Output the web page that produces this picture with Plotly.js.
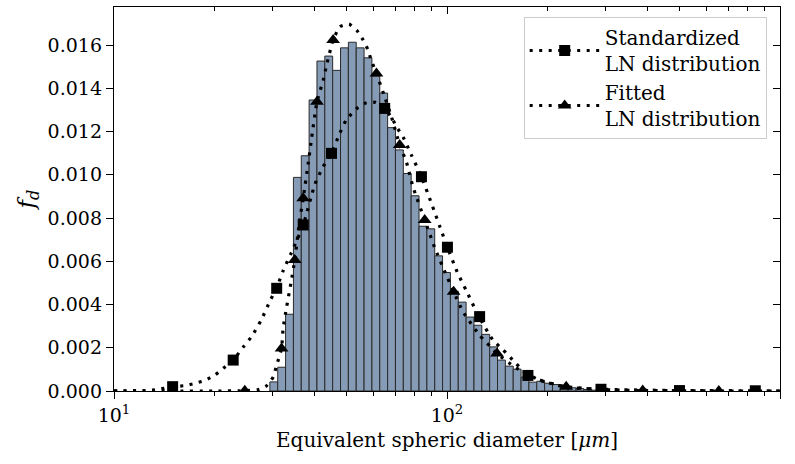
<!DOCTYPE html>
<html><head><meta charset="utf-8">
<script src="https://cdn.plot.ly/plotly-3.0.1.min.js"></script>
<style>html,body{margin:0;padding:0;background:#fff;} #chart{width:795px;height:464px;}</style>
</head><body><div id="chart"></div>
<script>
// Histogram (log-spaced bins): bin edges [µm] and density f_d per bin
const binEdges = [29.38, 31.02, 32.75, 34.58, 36.51, 38.54, 40.69, 42.96, 45.36, 47.89,
  50.56, 53.38, 56.36, 59.50, 62.82, 66.32, 70.02, 73.93, 78.05, 82.41,
  87.01, 91.86, 96.98, 102.39, 108.10, 114.13, 120.50, 127.22, 134.32, 141.81,
  149.72, 158.07, 166.89, 176.20, 186.03, 196.41, 207.36, 218.93, 231.14, 244.03,
  257.65, 272.02, 287.19];
const binDensity = [0.00042, 0.00110, 0.00355, 0.00988, 0.01088, 0.01346, 0.01526, 0.01549, 0.01483, 0.01587,
  0.01613, 0.01587, 0.01541, 0.01457, 0.01378, 0.01218, 0.01115, 0.01006, 0.00903, 0.00762,
  0.00750, 0.00625, 0.00548, 0.00461, 0.00411, 0.00342, 0.00304, 0.00262, 0.00204, 0.00143,
  0.00115, 0.00101, 0.00064, 0.00041, 0.00045, 0.00036, 0.00030, 0.00020, 0.00015, 0.00011,
  0.00007, 0.00004];

// Standardized LN distribution: curve and marker points
const stdCurveX = [10, 10.66, 12.24, 13.27, 15.0, 16.33, 17.59, 18.84, 20.1, 21.28, 22.8, 24.43, 25.88,
  27.73, 29.51, 30.77, 32.2, 34.1, 37.0, 40.1, 42.46, 45.0, 47.64, 49.9, 53.46, 57.3, 61.0, 65.0,
  68.4, 70.5, 73.8, 78.2, 83.8, 89.8, 96.8, 100.5, 107.2, 114.3, 124.7, 137.4, 147.4, 161, 175,
  196.4, 228, 290, 400, 500, 843, 1000];
const stdCurveY = [0.00001, 0.00001, 0.00002, 0.00005, 0.00020, 0.00025, 0.00036, 0.00051, 0.00074, 0.00105, 0.00143, 0.00203, 0.00251,
  0.00331, 0.00421, 0.00475, 0.00556, 0.00640, 0.00768, 0.00955, 0.01037, 0.01099, 0.01192, 0.01255, 0.01305, 0.01333, 0.01335, 0.01307,
  0.01261, 0.01222, 0.01175, 0.01091, 0.00991, 0.00868, 0.00729, 0.00661, 0.00552, 0.00464, 0.00344, 0.00236, 0.00190, 0.00128, 0.00074,
  0.00043, 0.00017, 0.00008, 0.00004, 0.00002, 0.00001, 0];
const stdMarkX = [15.0, 22.8, 30.8, 37.0, 45.0, 65.0, 83.8, 100.3, 125.3, 175, 290, 499, 843];
const stdMarkY = [0.00020, 0.00143, 0.00475, 0.00768, 0.01099, 0.01307, 0.00991, 0.00665, 0.00344, 0.00072, 0.00008, 0.00002, 0.00001];

// Fitted LN distribution: curve and marker points
const fitCurveX = [10, 15, 20, 24.7, 27, 28.5, 29.4, 30.1, 30.8, 31.85, 32.2, 33.0, 34.0, 34.9, 36.1, 37.0, 38.3,
  39.2, 40.7, 42.5, 43.5, 45.5, 47.7, 50.8, 53.7, 56.0, 57.9, 59.2, 61.4, 65, 68.1, 72.1, 75.5, 79.0, 85.7,
  92, 98.5, 104.7, 111.7, 125, 141.3, 160, 190, 228, 300, 387, 500, 655, 1000];
const fitCurveY = [0, 0, 0, 0.00001, 0.00006, 0.00020, 0.00043, 0.00066, 0.00120, 0.00197, 0.00290, 0.00390, 0.00500, 0.00606, 0.00790, 0.00891, 0.01053,
  0.01169, 0.01338, 0.01438, 0.01508, 0.01623, 0.01685, 0.01697, 0.01666, 0.01623, 0.01577, 0.01531, 0.01469, 0.01360, 0.01268, 0.01138, 0.01060, 0.00945, 0.00791,
  0.00660, 0.00552, 0.00459, 0.00367, 0.00260, 0.00174, 0.00110, 0.00050, 0.00020, 0.00006, 0.00002, 0.00001, 0, 0];
const fitMarkX = [24.7, 31.85, 34.9, 37.0, 40.7, 45.5, 61.4, 72.1, 85.7, 104.7, 141.3, 228, 387, 655];
const fitMarkY = [0.00001, 0.00197, 0.00606, 0.00891, 0.01338, 0.01623, 0.01469, 0.01138, 0.00791, 0.00459, 0.00174, 0.00020, 0.00002, 0];

// Axis ticks and labels
const xTickVals = [10, 100, 1000];
const xTickText = ['10<sup>1</sup>', '10<sup>2</sup>', '10<sup>3</sup>'];
const xMinorVals = [20, 30, 40, 50, 60, 70, 80, 90, 200, 300, 400, 500, 600, 700, 800, 900];
const yTickVals = [0, 0.002, 0.004, 0.006, 0.008, 0.010, 0.012, 0.014, 0.016];
const seriesNames = ['Standardized<br>LN distribution', 'Fitted<br>LN distribution'];
const xTitle = 'Equivalent spheric diameter [<i>μm</i>]';
const yTitle = '<i>f</i><sub><i>d</i></sub>';

const FONT = 'DejaVu Serif';
const dotted = '3px,6.5px';
const lineW = 3.2;

// each bar spans [left edge, right edge] of its bin
const barLeft = binEdges.slice(0, -1);
const barWidth = barLeft.map((e, i) => binEdges[i + 1] - e);

const traces = [
  {type: 'bar', x: barLeft, y: binDensity, width: barWidth, offset: 0, showlegend: false, hoverinfo: 'skip',
   marker: {color: '#869bb5', line: {color: '#2a2a2a', width: 1}}},
  {type: 'scatter', mode: 'lines', x: stdCurveX, y: stdCurveY, showlegend: false, hoverinfo: 'skip',
   line: {color: '#000', width: lineW, dash: dotted, shape: 'spline', smoothing: 0.6}},
  {type: 'scatter', mode: 'markers', x: stdMarkX, y: stdMarkY, showlegend: false, hoverinfo: 'skip',
   marker: {symbol: 'square', size: 11, color: '#000'}},
  {type: 'scatter', mode: 'lines', x: fitCurveX, y: fitCurveY, showlegend: false, hoverinfo: 'skip',
   line: {color: '#000', width: lineW, dash: dotted, shape: 'spline', smoothing: 0.5}},
  {type: 'scatter', mode: 'markers', x: fitMarkX, y: fitMarkY, showlegend: false, hoverinfo: 'skip',
   marker: {symbol: 'triangle-up', size: 12, color: '#000'}},
  {type: 'scatter', mode: 'lines+markers', x: [null], y: [null], name: seriesNames[0],
   line: {color: '#000', width: lineW, dash: dotted}, marker: {symbol: 'square', size: 11, color: '#000'}},
  {type: 'scatter', mode: 'lines+markers', x: [null], y: [null], name: seriesNames[1],
   line: {color: '#000', width: lineW, dash: dotted}, marker: {symbol: 'triangle-up', size: 12, color: '#000'}},
  {type: 'scatter', mode: 'markers', x: [null], y: [null], xaxis: 'x2', yaxis: 'y2', showlegend: false, hoverinfo: 'skip'}
];

const yMax = 0.01776;
const layout = {
  width: 795, height: 464,
  margin: {l: 114, r: 15, t: 7, b: 73},
  paper_bgcolor: '#fff', plot_bgcolor: '#fff',
  font: {family: FONT, color: '#000', size: 19},
  bargap: 0,
  showlegend: true,
  legend: {x: 0.98, xanchor: 'right', y: 0.974, yanchor: 'top',
    bgcolor: 'rgba(255,255,255,0.85)', bordercolor: '#cccccc', borderwidth: 1,
    font: {family: FONT, size: 20, color: '#000'}, tracegroupgap: 6, itemwidth: 70},
  xaxis: {type: 'log', range: [1, 3], tickvals: xTickVals, ticktext: xTickText,
    ticks: 'outside', ticklen: 7, tickwidth: 1, tickcolor: '#000',
    showline: true, linecolor: '#000', linewidth: 1.2, mirror: true,
    showgrid: false, zeroline: false, automargin: false,
    tickfont: {family: FONT, size: 19, color: '#000'},
    minor: {tickvals: xMinorVals, ticks: 'outside', ticklen: 4, tickwidth: 1, tickcolor: '#000', showgrid: false},
    title: {text: xTitle, font: {family: FONT, size: 20, color: '#000'}, standoff: 8}},
  yaxis: {range: [0, yMax], tickvals: yTickVals, tickformat: '.3f',
    ticks: 'outside', ticklen: 7, tickwidth: 1, tickcolor: '#000',
    showline: true, linecolor: '#000', linewidth: 1.2, mirror: true,
    showgrid: false, zeroline: false, automargin: false,
    tickfont: {family: FONT, size: 19, color: '#000'},
    title: {text: yTitle, font: {family: FONT, size: 23, color: '#000'}, standoff: 6}},
  xaxis2: {type: 'log', range: [1, 3], overlaying: 'x', side: 'top', anchor: 'y',
    tickvals: xTickVals, showticklabels: false, ticks: 'inside', ticklen: 7, tickwidth: 1, tickcolor: '#000',
    minor: {tickvals: xMinorVals, ticks: 'inside', ticklen: 4, tickwidth: 1, tickcolor: '#000', showgrid: false},
    showline: false, showgrid: false, zeroline: false},
  yaxis2: {range: [0, yMax], overlaying: 'y', side: 'right', anchor: 'x',
    tickvals: yTickVals, showticklabels: false, ticks: 'inside', ticklen: 7, tickwidth: 1, tickcolor: '#000',
    showline: false, showgrid: false, zeroline: false}
};

Plotly.newPlot('chart', traces, layout, {displayModeBar: false, staticPlot: true});
</script>
</body></html>
